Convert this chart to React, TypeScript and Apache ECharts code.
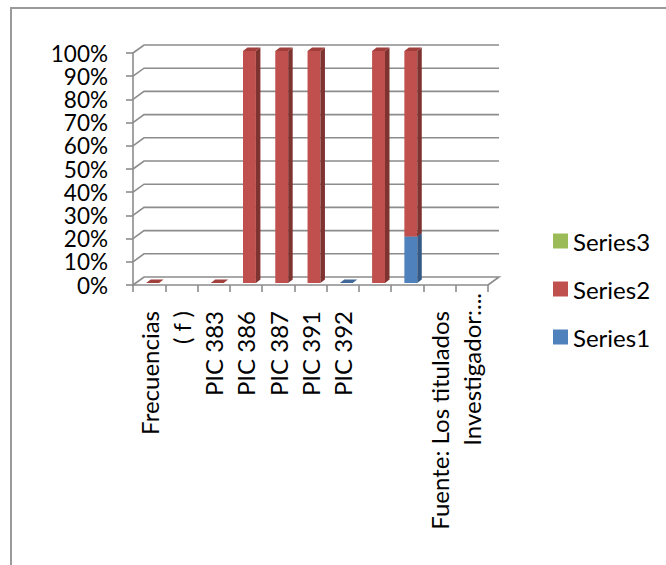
import React, { useEffect, useRef } from "react";
import * as echarts from "echarts";

const categories = ["Frecuencias", "( f )", "PIC 383", "PIC 386", "PIC 387", "PIC 391", "PIC 392", "", "", "Fuente: Los titulados", "Investigador:..."];
const series1: (number | null)[] = [null, null, null, null, null, null, 0, null, 20, null, null];
const series2: (number | null)[] = [0, null, 0, 100, 100, 100, null, 100, 80, null, null];
const series3: (number | null)[] = [null, null, null, null, null, null, null, null, null, null, null];
const yTicks = [0, 10, 20, 30, 40, 50, 60, 70, 80, 90, 100];

const FONT = "Lato";
const FS = 24;
const GRID = "#8c8c8c";
const DX = 11;
const DY = -8;

function stackData(values: (number | null)[], below: (number | null)[][]) {
  const out: number[][] = [];
  values.forEach((v, i) => {
    if (v === null) return;
    const base = below.reduce((s, arr) => s + (arr[i] ?? 0), 0);
    out.push([i, base, base + v]);
  });
  return out;
}

function barRenderer(front: string, side: string, top: string) {
  return (_params: any, api: any) => {
    const cat = api.value(0);
    const p0 = api.coord([cat, api.value(1)]);
    const p1 = api.coord([cat, api.value(2)]);
    const slot = api.size([1, 0])[0];
    const w = slot * 0.4;
    const ox = 3.5;
    const oy = -2;
    const dx = 4.5;
    const dy = -3.5;
    const x0 = p0[0] - w / 2 + ox;
    const x1 = x0 + w;
    const yb = p0[1] + oy;
    const yt = p1[1] + oy;
    const children: any[] = [];
    if (yb - yt > 0.5) {
      children.push({ type: "rect", shape: { x: x0, y: yt, width: w, height: yb - yt }, style: { fill: front } });
      children.push({
        type: "polygon",
        shape: { points: [[x1, yb], [x1 + dx, yb + dy], [x1 + dx, yt + dy], [x1, yt]] },
        style: { fill: side },
      });
    }
    children.push({
      type: "polygon",
      shape: { points: [[x0, yt], [x0 + dx, yt + dy], [x1 + dx, yt + dy], [x1, yt]] },
      style: { fill: top },
    });
    return { type: "group", children };
  };
}

function wallRenderer(params: any, api: any) {
  const v = api.value(0);
  const y = api.coord([0, v])[1];
  const cs = params.coordSys;
  const left = cs.x;
  const right = cs.x + cs.width;
  const pts = [[left, y], [left + DX, y + DY], [right + DX, y + DY]];
  if (v === 0) pts.push([right, y]);
  return {
    type: "polyline",
    shape: { points: pts },
    style: { stroke: GRID, lineWidth: 1.6, fill: null },
  };
}

export default function App() {
  const ref = useRef<HTMLDivElement>(null);
  useEffect(() => {
    document.body.style.margin = "0";
    const chart = echarts.init(ref.current!, null, { renderer: "svg" });
    chart.setOption({
      animation: false,
      backgroundColor: "#ffffff",
      textStyle: { fontFamily: FONT },
      grid: { left: 133, top: 53, width: 355, height: 232, containLabel: false },
      graphic: [
        {
          type: "polyline",
          silent: true,
          shape: { points: [[11, 565], [11, 8], [666, 8]] },
          style: { stroke: "#9a9a9a", lineWidth: 2, fill: null },
        },
      ],
      legend: {
        left: 553,
        top: 229,
        padding: 0,
        orient: "vertical",
        itemWidth: 15,
        itemHeight: 15,
        itemGap: 24,
        icon: "rect",
        selectedMode: false,
        data: ["Series3", "Series2", "Series1"],
        textStyle: { fontFamily: FONT, fontSize: FS, color: "#000000", padding: [0, 0, 0, 0] },
      },
      xAxis: {
        type: "category",
        data: categories,
        boundaryGap: true,
        axisLine: { show: true, lineStyle: { color: GRID, width: 1.6 } },
        axisTick: { show: true, length: 7, alignWithLabel: false, interval: 0, lineStyle: { color: GRID, width: 1.6 } },
        splitLine: { show: false },
        axisLabel: {
          interval: 0,
          rotate: 90,
          margin: 8,
          color: "#000000",
          fontFamily: FONT,
          fontSize: FS,
          hideOverlap: false,
          showMinLabel: true,
          showMaxLabel: true,
          formatter: (value: string, index: number) =>
            value === "" ? "" : index === categories.length - 1 ? `{a|${value}}` : `{b|${value}}`,
          rich: {
            a: { fontFamily: FONT, fontSize: FS, color: "#000000" },
            b: { fontFamily: FONT, fontSize: FS, color: "#000000", padding: [0, 18, 0, 0] },
          },
        },
      },
      yAxis: {
        type: "value",
        min: 0,
        max: 100,
        interval: 10,
        axisLine: { show: true, lineStyle: { color: GRID, width: 1.6 } },
        axisTick: { show: true, length: 7, lineStyle: { color: GRID, width: 1.6 } },
        splitLine: { show: false },
        axisLabel: {
          margin: 25,
          color: "#000000",
          hideOverlap: false,
          showMinLabel: true,
          showMaxLabel: true,
          minMargin: 0,
          textMargin: 0,
          fontFamily: FONT,
          fontSize: 22.5,
          lineHeight: 18,
          formatter: "{value}%",
        },
      },
      series: [
        {
          name: "walls",
          type: "custom",
          silent: true,
          clip: false,
          z: 1,
          renderItem: wallRenderer,
          data: yTicks.map((t) => [t]),
          encode: { y: 0 },
        },
        {
          name: "Series1",
          type: "custom",
          silent: true,
          clip: false,
          z: 3,
          itemStyle: { color: "#4f81bd" },
          renderItem: barRenderer("#4f81bd", "#355a86", "#3f6797"),
          data: stackData(series1, []),
          encode: { x: 0, y: [1, 2] },
        },
        {
          name: "Series2",
          type: "custom",
          silent: true,
          clip: false,
          z: 3,
          itemStyle: { color: "#c0504d" },
          renderItem: barRenderer("#c0504d", "#7f3331", "#a03f3c"),
          data: stackData(series2, [series1]),
          encode: { x: 0, y: [1, 2] },
        },
        {
          name: "Series3",
          type: "custom",
          silent: true,
          clip: false,
          z: 3,
          itemStyle: { color: "#9bbb59" },
          renderItem: barRenderer("#9bbb59", "#6f8a3c", "#84a048"),
          data: stackData(series3, [series1, series2]),
          encode: { x: 0, y: [1, 2] },
        },
      ],
    });
    return () => chart.dispose();
  }, []);
  return <div ref={ref} style={{ width: 666, height: 565 }} />;
}
